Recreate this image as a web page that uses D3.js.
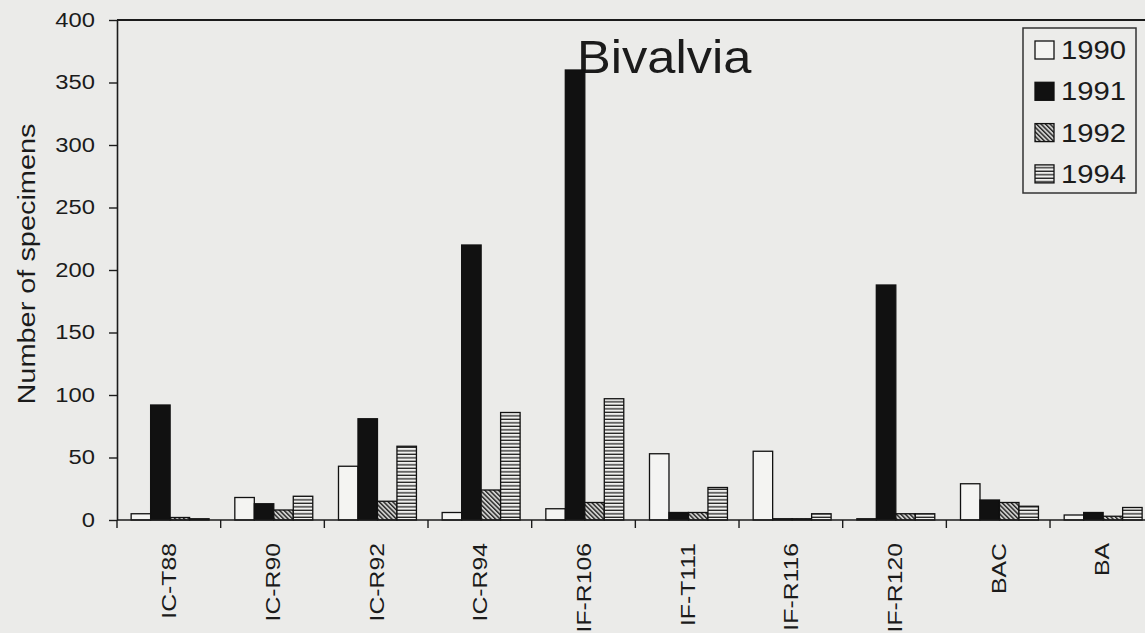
<!DOCTYPE html>
<html>
<head>
<meta charset="utf-8">
<script src="https://cdn.jsdelivr.net/npm/d3@7"></script>
<style>
  html, body { margin: 0; padding: 0; background: #ebebe9; }
  svg { display: block; font-family: "Liberation Sans", Arial, Helvetica, sans-serif; }
</style>
</head>
<body>
<svg id="chart" width="1145" height="633"></svg>
<script>
// ---- data ----
const categories = ["IC-T88", "IC-R90", "IC-R92", "IC-R94", "IF-R106", "IF-T111", "IF-R116", "IF-R120", "BAC", "BA"];
const years = ["1990", "1991", "1992", "1994"];
const values1990 = [5, 18, 43, 6, 9, 53, 55, 1, 29, 4];
const values1991 = [92, 13, 81, 220, 360, 6, 1, 188, 16, 6];
const values1992 = [2, 8, 15, 24, 14, 6, 1, 5, 14, 3];
const values1994 = [1, 19, 59, 86, 97, 26, 5, 5, 11, 10];
const yTickValues = [0, 50, 100, 150, 200, 250, 300, 350, 400];
const titleText = "Bivalvia";
const yTitle = "Number of specimens";

const seriesValues = [values1990, values1991, values1992, values1994];

// ---- setup ----
const W = 1145, H = 633;
const svg = d3.select("#chart");
const ink = "#1b1b1b";
const K = 1.18; // horizontal glyph stretch

svg.append("rect").attr("width", W).attr("height", H).attr("fill", "#ebebe9");

const defs = svg.append("defs");
// 1992: diagonal hatch
const p92 = defs.append("pattern").attr("id", "hatch92")
  .attr("patternUnits", "userSpaceOnUse").attr("width", 3.2).attr("height", 3.2)
  .attr("patternTransform", "rotate(-45)");
p92.append("rect").attr("width", 3.2).attr("height", 3.2).attr("fill", "#cfcfcd");
p92.append("rect").attr("width", 1.4).attr("height", 3.2).attr("fill", "#262626");
// 1994: horizontal stripes
const p94 = defs.append("pattern").attr("id", "stripe94")
  .attr("patternUnits", "userSpaceOnUse").attr("width", 10).attr("height", 3.5);
p94.append("rect").attr("width", 10).attr("height", 3.5).attr("fill", "#f1f1ef");
p94.append("rect").attr("y", 2.2).attr("width", 10).attr("height", 1.3).attr("fill", "#222");

const fills = ["#f4f4f2", "#111111", "url(#hatch92)", "url(#stripe94)"];

const x = d3.scaleBand().domain(categories).range([117, 1153.7]).paddingInner(0).paddingOuter(0);
const xInner = d3.scaleBand().domain(years).range([0, x.bandwidth()]).paddingInner(0).paddingOuter(0.66).align(0.55);
const y = d3.scaleLinear().domain([0, 400]).range([520, 20]);

function stretch(sel, k) {
  sel.each(function () {
    const t = d3.select(this);
    const tx = +t.attr("x") || 0, ty = +t.attr("y") || 0;
    t.attr("x", 0).attr("y", 0).attr("transform", `translate(${tx},${ty}) scale(${k},1)`);
  });
}

// ---- title (behind bars) ----
svg.append("text")
  .attr("transform", `translate(577,73) scale(1.1,1)`)
  .attr("font-size", 46).attr("fill", ink)
  .text(titleText);

// ---- top frame line ----
svg.append("line").attr("x1", 117).attr("x2", W).attr("y1", y(400)).attr("y2", y(400))
  .attr("stroke", ink).attr("stroke-width", 2);

// ---- bars ----
const rows = categories.map((c, i) => ({ cat: c, vals: years.map((yr, j) => ({ yr, j, v: seriesValues[j][i] })) }));
const groups = svg.append("g").selectAll("g").data(rows).join("g")
  .attr("transform", d => `translate(${x(d.cat)},0)`);
groups.selectAll("rect").data(d => d.vals).join("rect")
  .attr("x", d => xInner(d.yr))
  .attr("y", d => y(d.v))
  .attr("width", xInner.bandwidth())
  .attr("height", d => y(0) - y(d.v))
  .attr("fill", d => fills[d.j])
  .attr("stroke", "#111").attr("stroke-width", 1.3);

// ---- y axis ----
const yAxis = svg.append("g").attr("transform", "translate(117,0)")
  .call(d3.axisLeft(y).tickValues(yTickValues).tickSize(8).tickPadding(14).tickSizeOuter(0));
yAxis.select(".domain").attr("stroke", ink).attr("stroke-width", 1.6);
yAxis.selectAll(".tick line").attr("stroke", ink).attr("stroke-width", 1.4);
yAxis.selectAll(".tick text").attr("font-size", 19.5).attr("fill", ink)
  .attr("font-family", "Liberation Sans, Arial, sans-serif");
stretch(yAxis.selectAll(".tick text"), 1.22);

// ---- x axis ----
const xAxis = svg.append("g").attr("transform", `translate(0,${y(0)})`)
  .call(d3.axisBottom(x).tickSize(0).tickSizeOuter(0));
xAxis.select(".domain").remove();
xAxis.selectAll(".tick text")
  .attr("font-size", 21).attr("fill", ink)
  .attr("font-family", "Liberation Sans, Arial, sans-serif")
  .attr("text-anchor", "end")
  .attr("x", 0).attr("y", 0).attr("dy", "0.36em")
  .attr("transform", `translate(0,23) rotate(-90) scale(${K},1)`);
svg.append("line").attr("x1", 117).attr("x2", W).attr("y1", y(0)).attr("y2", y(0))
  .attr("stroke", ink).attr("stroke-width", 1.6);
const bounds = categories.map(c => x(c));
svg.append("g").selectAll("line").data(bounds).join("line")
  .attr("x1", d => d).attr("x2", d => d)
  .attr("y1", y(0)).attr("y2", y(0) + 8)
  .attr("stroke", ink).attr("stroke-width", 1.4);

// ---- y title ----
svg.append("text")
  .attr("transform", `translate(35,264) rotate(-90) scale(1.18,1)`)
  .attr("text-anchor", "middle").attr("font-size", 24.5).attr("fill", ink)
  .text(yTitle);

// ---- legend ----
const lg = svg.append("g");
lg.append("rect").attr("x", 1023).attr("y", 28).attr("width", 113).attr("height", 165)
  .attr("fill", "#ececea")
  .attr("stroke", "#333").attr("stroke-width", 1.5);
const items = lg.selectAll("g.item").data(years).join("g").attr("class", "item")
  .attr("transform", (d, i) => `translate(1035,${41 + i * 41.3})`);
items.append("rect").attr("width", 19).attr("height", 18)
  .attr("fill", (d, i) => fills[i]).attr("stroke", "#111").attr("stroke-width", 1.3);
items.append("text")
  .attr("transform", `translate(26,18) scale(1.17,1)`)
  .attr("font-size", 25).attr("fill", ink)
  .text(d => d);
</script>
</body>
</html>
